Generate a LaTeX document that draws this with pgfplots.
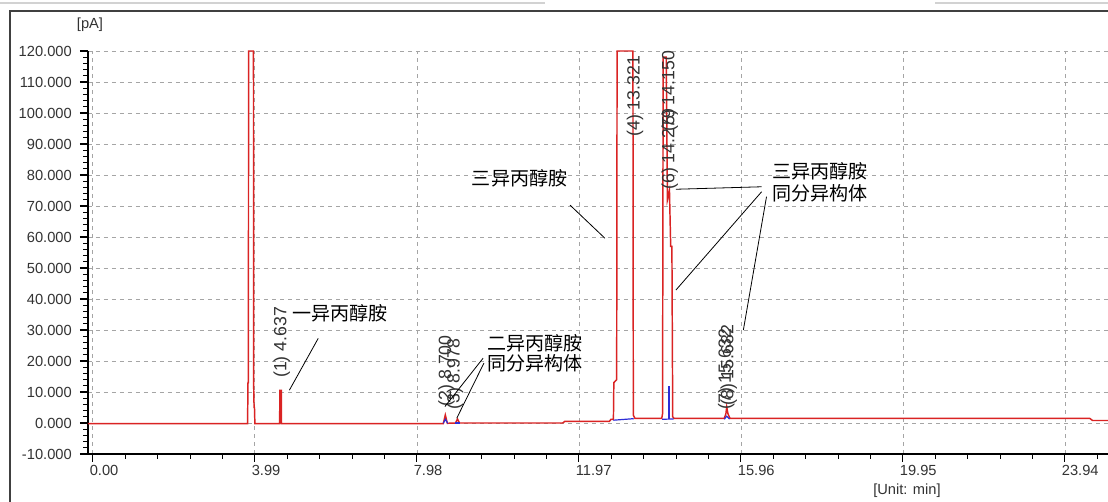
\documentclass[border=0pt]{standalone}
\usepackage{fontspec}
\setmainfont{Liberation Sans}
\newfontfamily\cjk{Noto Sans CJK SC}
\usepackage{pgfplots}
\pgfplotsset{compat=1.18}

\definecolor{trace}{RGB}{218,35,35}
\definecolor{base}{RGB}{45,45,215}
\definecolor{gridc}{RGB}{165,165,165}

\newcommand{\peaklabel}[3]{\node[rotate=90, anchor=west, inner sep=0pt, text=black!80,
  font=\fontsize{13.3}{15}\selectfont] at (axis cs:#1,#2) {#3};}
\newcommand{\cjklabel}[3]{\node[anchor=west, inner sep=0pt,
  font=\cjk\fontsize{14.3}{16}\selectfont] at (axis cs:#1,#2) {#3};}

\begin{document}
\begin{tikzpicture}[x=0.75pt, y=0.75pt]
\useasboundingbox (0,0) rectangle (1108,502);
\fill[white] (0,0) rectangle (1108,502);
% window frame (pixel coordinates, origin bottom left)
\draw[gray!35, line width=1.5pt] (0,499) -- (545,499);
\draw[gray!35, line width=1.5pt] (935,499) -- (1108,499);
\draw[black!75, line width=1.5pt] (9.5,0) -- (9.5,490.5) -- (1108,490.5);

\begin{axis}[
  at={(66pt,36pt)}, anchor=south west,
  scale only axis, width=765pt, height=302.25pt,
  xmin=-0.12, xmax=25.0, ymin=-10, ymax=120,
  axis x line*=bottom, axis y line*=left,
  axis line style={black, line width=1.4pt},
  xtick={0,3.99,7.98,11.97,15.96,19.95,23.94},
  xticklabels={0.00,3.99,7.98,11.97,15.96,19.95,23.94},
  minor xtick={0.798,1.596,...,25.0},
  ytick={-10,0,...,120},
  yticklabels={-10.000,0.000,10.000,20.000,30.000,40.000,50.000,60.000,70.000,80.000,90.000,100.000,110.000,120.000},
  minor y tick num=4,
  tick align=outside,
  major tick length=6pt, minor tick length=3.5pt,
  tick style={black, line width=0.8pt},
  ymajorgrids, xmajorgrids,
  major grid style={gridc, dash pattern=on 3pt off 3pt, line width=0.6pt},
  ticklabel style={font=\fontsize{11}{13}\selectfont, text=black!80, inner sep=0pt},
  yticklabel style={anchor=east, xshift=-6pt},
  xticklabel style={anchor=north west, xshift=-2.5pt, yshift=-2pt},
]
% FID trace
\addplot[trace, line width=1.1pt] coordinates {
  (-0.12,-0.2) (3.81,-0.2) (3.82,13) (3.83,13) (3.835,120) (3.955,120) (3.96,12)
  (3.97,5) (3.98,5) (3.99,-0.2) (4.60,-0.2) (4.605,10.5) (4.64,10.5) (4.645,-0.2)
  (8.63,-0.2) (8.68,2.6) (8.73,-0.1) (8.93,0) (8.98,1.3) (9.03,0)
  (11.57,0) (11.62,0.5) (12.72,0.5) (12.76,1.2) (12.82,1.2) (12.83,13) (12.90,14)
  (12.91,120) (13.30,120) (13.31,2.5) (13.35,1.5) (14.01,1.5) (14.03,3)
  (14.045,118) (14.12,118) (14.15,72) (14.20,75) (14.23,57) (14.26,57)
  (14.28,2) (14.31,1.5) (15.55,1.5) (15.59,3) (15.61,5.2) (15.64,3) (15.69,1.5)
  (24.55,1.5) (24.62,0.8) (25.2,0.8)
};
% integration baselines
\addplot[base, line width=0.9pt] coordinates {(8.63,-0.1) (8.68,1.2) (8.74,-0.1)};
\addplot[base, line width=0.9pt] coordinates {(8.93,0) (9.03,0)};
\addplot[base, line width=0.9pt] coordinates {(12.82,0.9) (13.32,1.4)};
\addplot[base, line width=0.9pt] coordinates {(14.02,1.2) (14.30,1.3)};
\addplot[base, line width=0.9pt] coordinates {(14.19,1.3) (14.19,12)};
\addplot[base, line width=0.9pt] coordinates {(15.55,1.2) (15.61,2.2) (15.68,1.3)};

% peak labels
\peaklabel{4.65}{14.5}{(1) 4.637}
\peaklabel{8.71}{5.3}{(2) 8.700}
\peaklabel{8.92}{4.2}{(3) 8.978}
\peaklabel{13.35}{92.3}{(4) 13.321}
\peaklabel{14.21}{93.9}{(5) 14.150}
\peaklabel{14.21}{75.2}{(6) 14.279}
\peaklabel{15.60}{4.2}{(7) 15.632}
\peaklabel{15.66}{5.5}{(8) 15.682}

% annotations
\cjklabel{4.90}{35.5}{一异丙醇胺}
\draw[black, line width=0.6pt] (axis cs:5.55,27.3) -- (axis cs:4.84,10.6);
\cjklabel{9.70}{25.7}{二异丙醇胺}
\cjklabel{9.70}{19.3}{同分异构体}
\draw[black, line width=0.6pt] (axis cs:9.61,20.9) -- (axis cs:8.67,5.3);
\draw[black, line width=0.6pt] (axis cs:9.63,19.3) -- (axis cs:8.96,1.5);
\cjklabel{9.33}{78.9}{三异丙醇胺}
\draw[black, line width=0.6pt] (axis cs:11.75,70.3) -- (axis cs:12.61,59.6);
\cjklabel{16.72}{81.1}{三异丙醇胺}
\cjklabel{16.72}{74.1}{同分异构体}
\draw[black, line width=0.6pt] (axis cs:16.47,76.2) -- (axis cs:14.36,75.4);
\draw[black, line width=0.6pt] (axis cs:16.47,74.6) -- (axis cs:14.36,42.9);
\draw[black, line width=0.6pt] (axis cs:16.59,73.0) -- (axis cs:16.02,30.0);
\end{axis}

\node[font=\fontsize{11}{13}\selectfont, text=black!80] at (90,477) {[pA]};
\node[font=\fontsize{11}{13}\selectfont, text=black!80] at (907,11) {[Unit: min]};
\end{tikzpicture}
\end{document}
